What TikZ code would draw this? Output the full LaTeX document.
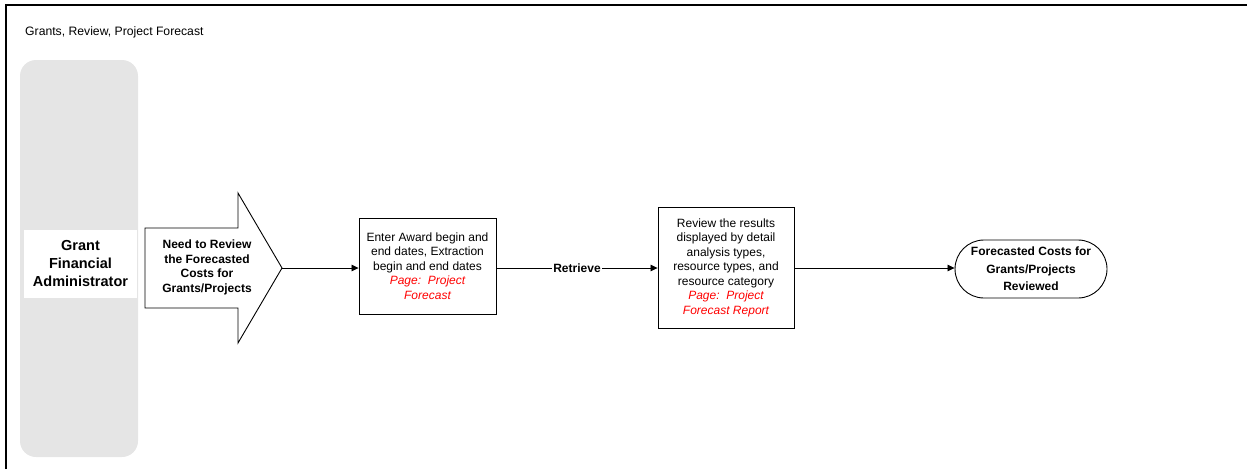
\documentclass[tikz,border=0pt]{standalone}
\usepackage{fontspec}
\setmainfont{Liberation Sans}
\usetikzlibrary{arrows.meta,shapes.misc}

\definecolor{lanegray}{HTML}{E5E5E5}
\definecolor{pagered}{HTML}{FF0000}

% page reference note inside a step
\newcommand{\pgnote}[1]{{\itshape\color{pagered}#1}}

\tikzset{
  stepbox/.style={draw, line width=0.9pt, fill=white, inner sep=0pt, align=center,
    font=\fontsize{12}{14.5}\selectfont},
  endbox/.style={draw, line width=0.9pt, rounded rectangle, inner sep=0pt, align=center,
    font=\bfseries\fontsize{12}{17.5}\selectfont},
  flow/.style={line width=0.8pt, -{Triangle[length=7pt,width=6.5pt]}},
  flowlabel/.style={fill=white, inner sep=1.5pt, font=\bfseries\fontsize{12}{14}\selectfont}
}

\begin{document}
\begin{tikzpicture}[x=1pt,y=-1pt]
\useasboundingbox (0,0) rectangle (1247,469);

% outer frame (open to the right and bottom)
\draw[line width=1.6pt] (6,469) -- (6,5) -- (1247,5);

% diagram title
\node[anchor=west, inner sep=0pt, font=\fontsize{12.2}{14}\selectfont] (title) at (25,32)
  {Grants, Review, Project Forecast};

% swimlane
\node[fill=lanegray, rounded corners=16pt, inner sep=0pt,
      minimum width=118pt, minimum height=397pt] (lane) at (79,258.5) {};
\node[fill=white, inner sep=0pt, minimum width=113pt, minimum height=68pt, align=center,
      font=\bfseries\fontsize{14.5}{18}\selectfont] (role) at (80.5,264)
  {Grant\\Financial\\Administrator};

% start event: block arrow
\draw[line width=0.9pt, fill=white]
  (145,228) -- (238,228) -- (238,193) -- (282,268) -- (238,343) -- (238,308)
  -- (145,308) -- cycle;
\coordinate (needtip) at (282,268);
\node[inner sep=0pt, align=center, font=\bfseries\fontsize{12}{14.5}\selectfont]
  (need) at (207,267.5)
  {Need to Review\\the Forecasted\\Costs for\\Grants/Projects};

% process steps
\node[stepbox, minimum width=137pt, minimum height=96pt] (enter) at (427.5,266)
  {Enter Award begin and\\end dates, Extraction\\begin and end dates\\
   \pgnote{Page:\ \ Project}\\\pgnote{Forecast}};
\node[stepbox, minimum width=136pt, minimum height=121pt] (review) at (726,267.5)
  {Review the results\\displayed by detail\\analysis types,\\resource types, and\\
   resource category\\\pgnote{Page:\ \ Project}\\\pgnote{Forecast Report}};

% end event
\node[endbox, minimum width=152pt, minimum height=58pt] (done) at (1031,269)
  {Forecasted Costs for\\Grants/Projects\\Reviewed};

% connectors
\draw[flow] (needtip) -- (needtip -| enter.west);
\draw[flow] (needtip -| enter.east) -- node[flowlabel] {Retrieve} (needtip -| review.west);
\draw[flow] (needtip -| review.east) -- (needtip -| done.west);
\end{tikzpicture}
\end{document}
